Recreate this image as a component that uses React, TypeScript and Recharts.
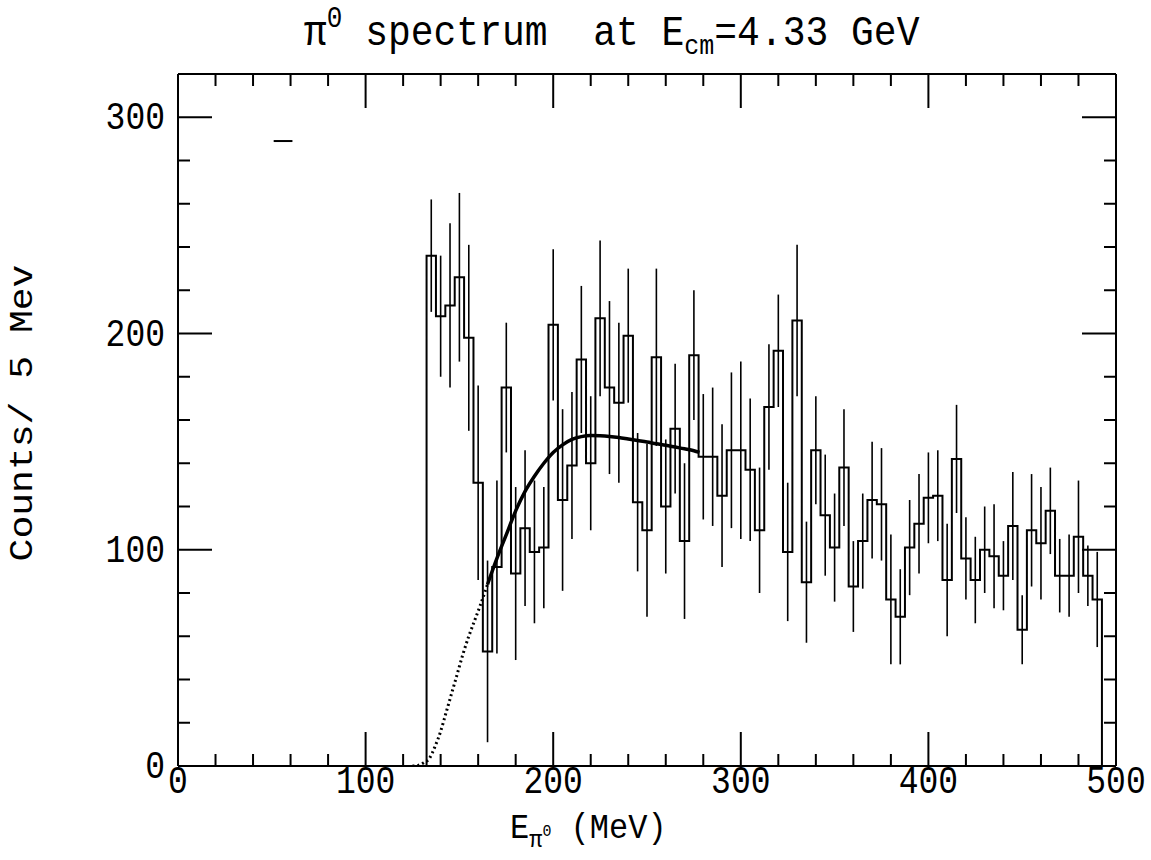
import React from 'react';
import { ComposedChart, Line, Scatter, ErrorBar, XAxis, YAxis } from 'recharts';

// ---- data ----
const BIN_START = 135; // MeV, centre of first bin
const BIN_WIDTH = 5; // MeV

const counts = [
  236, 208, 213, 226, 198, 131, 53, 92, 175, 89,
  110, 99, 101, 204, 123, 139, 188, 140, 207, 175,
  168, 199, 122, 109, 189, 120, 156, 104, 190, 143,
  143, 125, 146, 146, 137, 109, 166, 192, 99, 206,
  85, 146, 116, 101, 138, 83, 104, 123, 121, 77,
  69, 101, 112, 124, 125, 86, 142, 96, 86, 100,
  97, 88, 111, 63, 109, 103, 118, 88, 88, 106,
  88, 77,
];

const errors = [
  26, 28, 38, 39, 43, 45, 42, 40, 30, 40,
  36, 33, 28, 35, 42, 34, 34, 31, 36, 40,
  37, 31, 32, 40, 41, 31, 30, 36, 30, 29,
  32, 33, 36, 41, 33, 29, 29, 26, 32, 35,
  28, 25, 28, 25, 27, 21, 22, 27, 26, 30,
  22, 22, 23, 21, 21, 26, 25, 19, 20, 20,
  24, 16, 25, 16, 26, 26, 20, 17, 19, 26,
  14, 22,
];

const fitDottedE = [125, 128, 131, 134, 137, 140, 143, 146, 149, 152, 155, 158, 161, 165];
const fitDottedV = [0, 0.3, 1.5, 3.5, 9, 16, 25, 34, 43, 52, 60, 67, 74, 84];

const fitSolidE = [165, 170, 175, 180, 185, 190, 195, 200, 205, 210, 215, 220, 225, 230, 235, 240, 245, 250, 255, 260, 265, 270, 275, 278];
const fitSolidV = [84, 96, 107, 118, 127, 134, 140, 145, 148.5, 151, 152.3, 152.8, 152.7, 152.4, 151.9, 151.2, 150.5, 149.8, 149, 148.3, 147.5, 146.7, 145.8, 145];

const strayE = [51, 61];
const strayV = [289, 289];

const xTicks = [0, 20, 40, 60, 80, 100, 120, 140, 160, 180, 200, 220, 240, 260, 280, 300, 320, 340, 360, 380, 400, 420, 440, 460, 480, 500];
const yTicks = [0, 20, 40, 60, 80, 100, 120, 140, 160, 180, 200, 220, 240, 260, 280, 300, 320];
const X_MAX = 500;
const Y_MAX = 320;

// ---- derived tables ----
const histData: { x: number; y: number }[] = [{ x: BIN_START - BIN_WIDTH / 2, y: 0 }];
counts.forEach((c, i) => histData.push({ x: BIN_START + i * BIN_WIDTH - BIN_WIDTH / 2, y: c }));
histData.push({ x: BIN_START + counts.length * BIN_WIDTH - BIN_WIDTH / 2, y: 0 });

const errData = counts.map((c, i) => ({ x: BIN_START + i * BIN_WIDTH, y: c, err: errors[i] }));
const fitDotted = fitDottedE.map((e, i) => ({ x: e, y: fitDottedV[i] }));
const fitSolid = fitSolidE.map((e, i) => ({ x: e, y: fitSolidV[i] }));
const stray = strayE.map((e, i) => ({ x: e, y: strayV[i] }));

// ---- layout ----
const W = 1151;
const H = 860;
const PL = 178;
const PR = 1116;
const PT = 74;
const PB = 766;
const FONT = '"Liberation Mono", "DejaVu Sans Mono", monospace';
const MAJ = 34;
const MIN = 12;

const BottomTick = (props: any) => {
  const { x, y, payload } = props;
  const v = payload.value;
  const major = v % 100 === 0;
  const len = major ? MAJ : MIN;
  return (
    <g>
      {v !== 0 && v !== X_MAX && (
        <line x1={x} y1={y} x2={x} y2={y - len} stroke="#000" strokeWidth={2} />
      )}
      {major && (
        <text
          transform={`translate(${x},${y + 27}) scale(1,1.15)`}
          textAnchor="middle"
          fontFamily={FONT}
          fontSize={33}
          fill="#000"
        >
          {v}
        </text>
      )}
    </g>
  );
};

const TopTick = (props: any) => {
  const { x, y, payload } = props;
  const v = payload.value;
  const major = v % 100 === 0;
  const len = major ? MAJ : MIN;
  if (v === 0 || v === X_MAX) return <g />;
  return <line x1={x} y1={y} x2={x} y2={y + len} stroke="#000" strokeWidth={2} />;
};

const LeftTick = (props: any) => {
  const { x, y, payload } = props;
  const v = payload.value;
  const major = v % 100 === 0;
  const len = major ? MAJ : MIN;
  return (
    <g>
      {v !== 0 && v !== Y_MAX && (
        <line x1={x} y1={y} x2={x + len} y2={y} stroke="#000" strokeWidth={2} />
      )}
      {major && (
        <text
          transform={`translate(${x - 13},${y + 12}) scale(1,1.15)`}
          textAnchor="end"
          fontFamily={FONT}
          fontSize={33}
          fill="#000"
        >
          {v}
        </text>
      )}
    </g>
  );
};

const RightTick = (props: any) => {
  const { x, y, payload } = props;
  const v = payload.value;
  const major = v % 100 === 0;
  const len = major ? MAJ : MIN;
  if (v === 0 || v === Y_MAX) return <g />;
  return <line x1={x} y1={y} x2={x - len} y2={y} stroke="#000" strokeWidth={2} />;
};

const axisLine = { stroke: '#000', strokeWidth: 2 };

export default function App() {
  return (
    <div style={{ position: 'absolute', left: 0, top: 0, width: W, height: H, background: '#fff' }}>
      <ComposedChart
        width={W}
        height={H}
        margin={{ top: PT - 1, right: W - PR - 1, bottom: H - PB - 1, left: PL - 1 }}
      >
        <XAxis
          xAxisId="b"
          type="number"
          dataKey="x"
          domain={[0, X_MAX]}
          ticks={xTicks}
          interval={0}
          height={1}
          tickSize={0}
          tickMargin={0}
          tickLine={false}
          axisLine={axisLine}
          tick={<BottomTick />}
          allowDataOverflow
        />
        <XAxis
          xAxisId="t"
          orientation="top"
          type="number"
          dataKey="x"
          domain={[0, X_MAX]}
          ticks={xTicks}
          interval={0}
          height={1}
          tickSize={0}
          tickMargin={0}
          tickLine={false}
          axisLine={axisLine}
          tick={<TopTick />}
          allowDataOverflow
        />
        <YAxis
          yAxisId="l"
          type="number"
          domain={[0, Y_MAX]}
          ticks={yTicks}
          interval={0}
          width={1}
          tickSize={0}
          tickMargin={0}
          tickLine={false}
          axisLine={axisLine}
          tick={<LeftTick />}
          allowDataOverflow
        />
        <YAxis
          yAxisId="r"
          orientation="right"
          type="number"
          domain={[0, Y_MAX]}
          ticks={yTicks}
          interval={0}
          width={1}
          tickSize={0}
          tickMargin={0}
          tickLine={false}
          axisLine={axisLine}
          tick={<RightTick />}
          allowDataOverflow
        />
        <Line
          xAxisId="b"
          yAxisId="l"
          data={histData}
          dataKey="y"
          type="stepAfter"
          stroke="#000"
          strokeWidth={2}
          dot={false}
          activeDot={false}
          isAnimationActive={false}
        />
        <Scatter
          xAxisId="b"
          yAxisId="l"
          data={errData}
          dataKey="y"
          shape={() => <g />}
          isAnimationActive={false}
        >
          <ErrorBar dataKey="err" direction="y" width={0} stroke="#000" strokeWidth={1.6} isAnimationActive={false} />
        </Scatter>
        <Line
          xAxisId="b"
          yAxisId="l"
          data={fitDotted}
          dataKey="y"
          type="monotone"
          stroke="#000"
          strokeWidth={3}
          strokeDasharray="2 3"
          dot={false}
          activeDot={false}
          isAnimationActive={false}
        />
        <Line
          xAxisId="b"
          yAxisId="l"
          data={fitSolid}
          dataKey="y"
          type="monotone"
          stroke="#000"
          strokeWidth={3.5}
          dot={false}
          activeDot={false}
          isAnimationActive={false}
        />
        <Line
          xAxisId="b"
          yAxisId="l"
          data={stray}
          dataKey="y"
          stroke="#000"
          strokeWidth={2}
          dot={false}
          activeDot={false}
          isAnimationActive={false}
        />
      </ComposedChart>
      <svg
        width={W}
        height={H}
        style={{ position: 'absolute', left: 0, top: 0, pointerEvents: 'none' }}
      >
        <text
          transform="translate(304,45) scale(1,1.12)"
          fontFamily={FONT}
          fontSize={38}
          fill="#000"
          style={{ whiteSpace: 'pre' }}
        >
          <tspan>π</tspan>
          <tspan fontSize={26} dy={-16}>0</tspan>
          <tspan fontSize={38} dy={16}>{' spectrum  at E'}</tspan>
          <tspan fontSize={25} dy={8}>cm</tspan>
          <tspan fontSize={38} dy={-8}>=4.33 GeV</tspan>
        </text>
        <text
          transform="translate(32,413) rotate(-90) scale(1.12,1)"
          textAnchor="middle"
          fontFamily={FONT}
          fontSize={34}
          fill="#000"
          style={{ whiteSpace: 'pre' }}
        >
          Counts/ 5 Mev
        </text>
        <text
          transform="translate(510,838) scale(1,1.12)"
          fontFamily={FONT}
          fontSize={32}
          fill="#000"
          style={{ whiteSpace: 'pre' }}
        >
          <tspan>E</tspan>
          <tspan fontSize={22} dy={8}>π</tspan>
          <tspan fontSize={15} dy={-10}>0</tspan>
          <tspan fontSize={32} dy={2}>{' (MeV)'}</tspan>
        </text>
      </svg>
    </div>
  );
}
